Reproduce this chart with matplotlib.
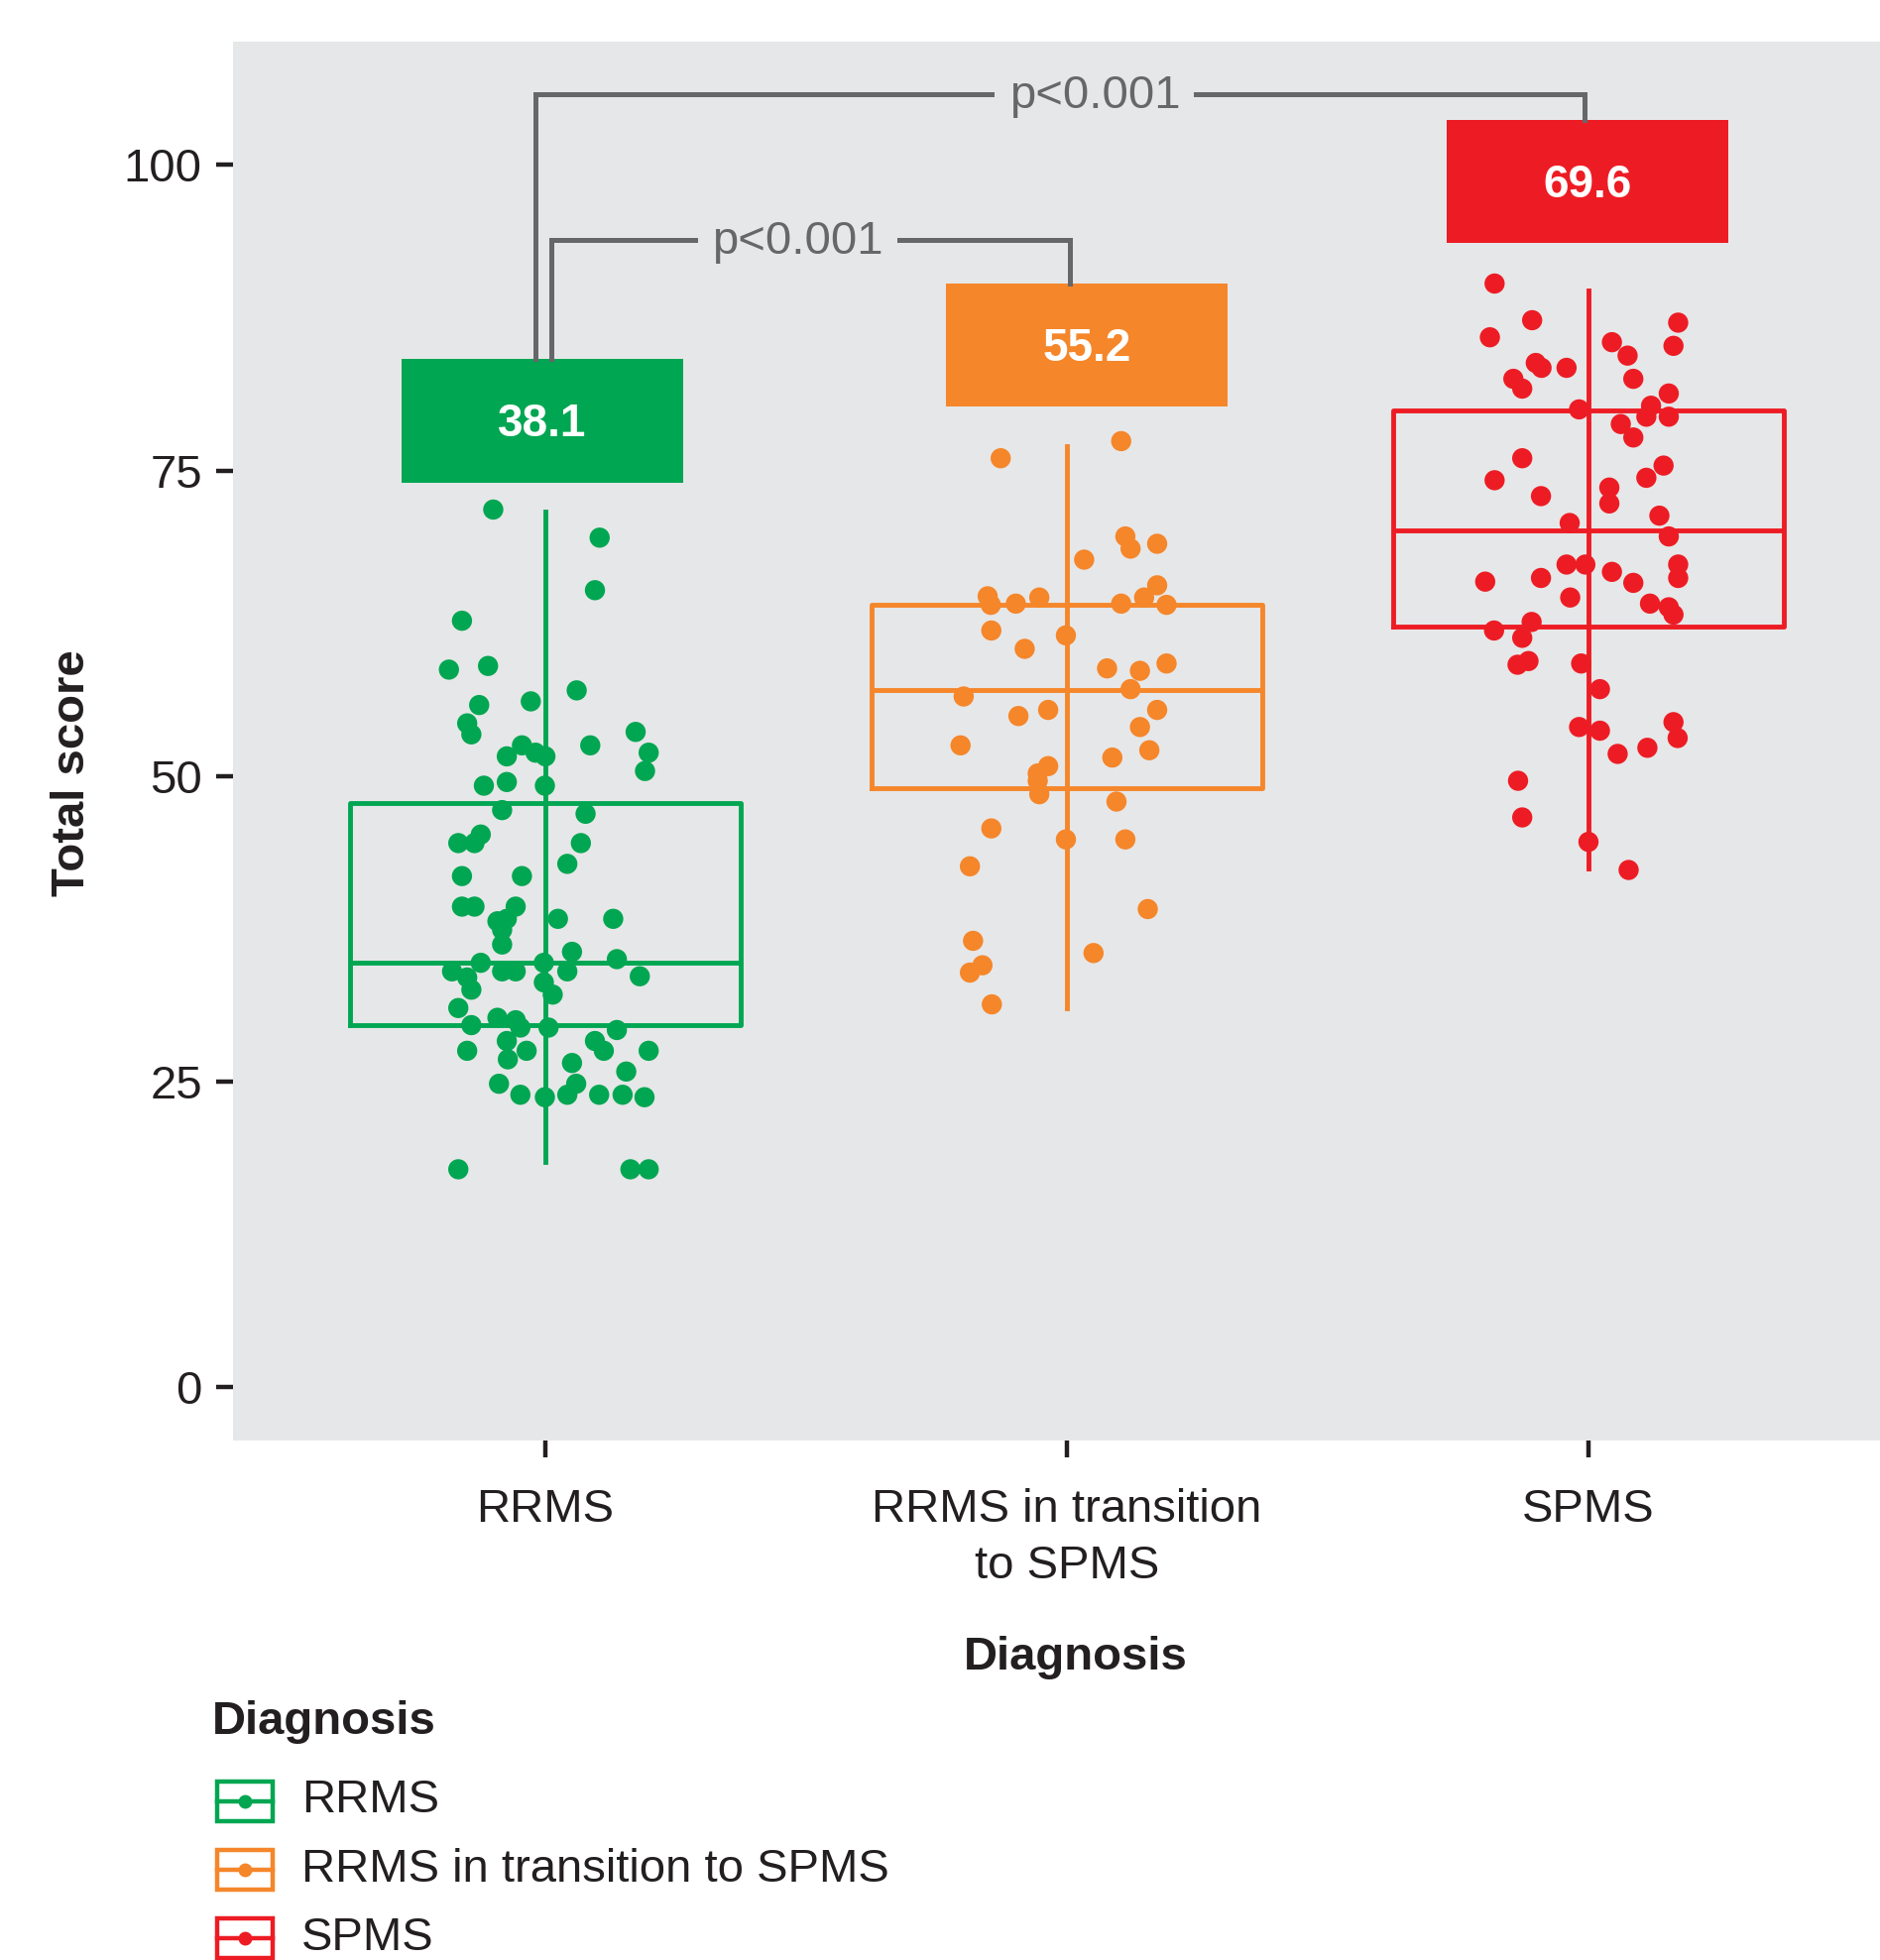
import numpy as np
import matplotlib
matplotlib.use('Agg')
import matplotlib.pyplot as plt
from matplotlib.patches import Rectangle
from matplotlib.lines import Line2D

plt.rcParams['font.family'] = ['Liberation Sans', 'DejaVu Sans']

# --- data ---
groups = ['RRMS', 'RRMS in transition to SPMS', 'SPMS']
tick_labels = ['RRMS', 'RRMS in transition\nto SPMS', 'SPMS']
colors = ['#00A651', '#F5862A', '#ED1C24']

# box stats: whisker low, Q1, median, Q3, whisker high
whislo = [18.4, 31.0, 42.4]
q1 = [29.6, 49.0, 62.2]
med = [34.7, 57.0, 70.1]
q3 = [47.8, 64.0, 79.9]
whishi = [71.6, 77.0, 89.7]

mean_labels = ['38.1', '55.2', '69.6']
label_x = [0.994, 2.038, 2.998]
label_bottom = [74.0, 80.2, 93.6]

# individual scores (y) and horizontal jitter (dx) per group
rrms_y = [71.8, 69.5, 65.2, 62.7, 58.7, 59.0, 57.0, 56.1, 55.8, 54.3,
          53.4, 53.6, 52.5, 52.5, 51.9, 51.6, 51.9, 51.6, 50.4, 49.2,
          49.5, 49.2, 47.2, 46.9, 45.2, 44.5, 44.5, 44.5, 42.8, 41.8,
          41.8, 39.3, 39.3, 39.3, 38.3, 38.1, 37.4, 38.3, 38.3, 36.2,
          35.6, 35.0, 34.7, 34.7, 34.0, 34.0, 34.0, 34.0, 33.5, 33.6,
          32.5, 33.1, 32.1, 31.0, 30.2, 30.0, 29.6, 29.4, 29.4, 29.2,
          28.3, 28.3, 27.5, 27.5, 27.5, 27.5, 26.8, 26.5, 25.8, 24.8,
          24.8, 23.9, 23.7, 23.9, 23.9, 23.9, 23.7, 17.8, 17.8, 17.8]
rrms_dx = [-0.100, 0.104, 0.095, -0.160, -0.185, -0.110, 0.060, -0.028, -0.127, -0.150,
           -0.142, 0.173, -0.045, 0.086, 0.198, -0.074, -0.019, 0.000, 0.191, -0.118,
           -0.074, -0.001, -0.083, 0.077, -0.124, -0.167, -0.136, 0.068, 0.042, -0.160,
           -0.045, -0.160, -0.136, -0.057, -0.074, -0.092, -0.083, 0.024, 0.130, -0.083,
           0.051, 0.137, -0.124, -0.003, -0.179, -0.083, -0.057, 0.042, -0.150, 0.181,
           -0.142, -0.003, 0.014, -0.167, -0.092, -0.057, -0.142, -0.048, 0.006, 0.137,
           -0.074, 0.095, -0.150, -0.036, 0.112, 0.198, -0.072, 0.051, 0.155, -0.089,
           0.059, -0.048, -0.001, 0.042, 0.103, 0.148, 0.190, -0.167, 0.163, 0.198]

trans_y = [77.4, 76.0, 69.6, 68.6, 69.0, 67.7, 65.6, 64.7, 64.6, 64.6,
           64.0, 64.1, 64.1, 64.0, 61.9, 61.5, 60.4, 59.2, 58.8, 58.6,
           57.1, 56.5, 55.4, 55.4, 54.9, 54.0, 52.5, 52.1, 51.5, 50.8,
           50.2, 49.6, 48.5, 47.9, 45.7, 44.8, 44.8, 42.6, 39.1, 36.5,
           34.5, 33.9, 31.3, 35.5]
trans_dx = [0.104, -0.127, 0.112, 0.122, 0.173, 0.033, 0.173, -0.152, -0.053, 0.148,
            -0.146, -0.098, 0.104, 0.191, -0.145, -0.002, -0.081, 0.191, 0.077, 0.140,
            0.122, -0.198, 0.173, -0.036, -0.093, 0.140, -0.204, 0.158, 0.087, -0.036,
            -0.056, -0.056, -0.053, 0.095, -0.145, -0.002, 0.112, -0.186, 0.155, -0.180,
            -0.162, -0.186, -0.144, 0.051]

spms_y = [90.3, 87.3, 87.1, 85.9, 85.5, 85.2, 84.4, 83.8, 83.4, 83.4,
          82.5, 81.7, 82.5, 81.3, 80.0, 80.3, 79.4, 79.4, 78.8, 77.7,
          76.0, 74.2, 75.4, 74.4, 73.6, 72.3, 72.9, 71.3, 70.7, 69.6,
          67.3, 67.3, 66.7, 67.3, 66.2, 65.9, 66.2, 65.8, 64.6, 64.1,
          63.8, 63.2, 61.9, 62.6, 61.3, 59.1, 59.4, 59.2, 57.1, 54.0,
          53.7, 54.4, 53.1, 52.3, 51.8, 49.6, 46.6, 44.6, 42.3]
spms_dx = [-0.180, -0.108, 0.172, -0.189, 0.045, 0.163, 0.075, -0.101, -0.090, -0.042,
           -0.144, -0.127, 0.086, 0.154, -0.018, 0.120, 0.111, 0.154, 0.062, 0.086,
           -0.127, -0.180, 0.144, 0.111, 0.040, 0.040, -0.091, 0.136, -0.036, 0.154,
           -0.042, -0.006, 0.045, 0.172, 0.172, -0.198, -0.091, 0.086, -0.035, 0.118,
           0.154, 0.163, -0.181, -0.109, -0.127, -0.136, -0.115, -0.014, 0.022, -0.018,
           0.022, 0.163, 0.171, 0.113, 0.056, -0.135, -0.127, 0.000, 0.077]

points_y = [rrms_y, trans_y, spms_y]
points_dx = [rrms_dx, trans_dx, spms_dx]

# pairwise comparisons: (group a, group b, bracket height, p text, text x)
comparisons = [(0, 2, 105.8, 'p<0.001', 2.053),
               (0, 1, 93.9, 'p<0.001', 1.483)]
bracket_ends = [(0.980, 2.992), (1.011, 2.006)]

# --- figure ---
W, H = 1896, 1977
fig = plt.figure(figsize=(W / 100, H / 100), dpi=100)
panel_bg = '#E6E7E8'
dark = '#231F20'
grey = '#666769'

def fxy(x, y):
    return x / W, 1 - y / H

ax = fig.add_axes([235 / W, 1 - 1453 / H, (W - 235) / W, (1453 - 42) / H])
ax.set_facecolor(panel_bg)
for s in ax.spines.values():
    s.set_visible(False)

pos = np.arange(1, 4)
lw = 3.5
for i in range(3):
    c = colors[i]
    ax.bxp([{'whislo': whislo[i], 'q1': q1[i], 'med': med[i], 'q3': q3[i],
             'whishi': whishi[i], 'fliers': []}],
           positions=[pos[i]], widths=0.75, showcaps=False, showfliers=False,
           boxprops=dict(color=c, linewidth=lw),
           whiskerprops=dict(color=c, linewidth=lw),
           medianprops=dict(color=c, linewidth=lw), zorder=2)
    ax.vlines(pos[i], q1[i], q3[i], color=c, linewidth=lw, zorder=2)
    ax.scatter(pos[i] + np.array(points_dx[i]), points_y[i], s=215, color=c,
               edgecolors='none', zorder=3)

# mean labels
label_w, label_h = 0.54, 10.1
for i in range(3):
    ax.add_patch(Rectangle((label_x[i] - label_w / 2, label_bottom[i]), label_w, label_h,
                           facecolor=colors[i], edgecolor='none', zorder=4))
    ax.text(label_x[i], label_bottom[i] + label_h / 2 - 0.3, mean_labels[i], color='white',
            fontsize=33, fontweight='bold', ha='center', va='center', zorder=5)

# significance brackets
label_top = [b + label_h for b in label_bottom]
for (a, b, yb, ptxt, tx), (xl, xr) in zip(comparisons, bracket_ends):
    ax.plot([xl, xl, xr, xr], [label_top[a], yb, yb, label_top[b]],
            color=grey, linewidth=3.6, solid_joinstyle='miter', zorder=4)
    ax.text(tx, yb - 0.2, ptxt, color=grey, fontsize=34, ha='center', va='center',
            bbox=dict(facecolor=panel_bg, edgecolor='none', boxstyle='square,pad=0.3'),
            zorder=5)

ax.set_xlim(0.401, 3.559)
ax.set_ylim(-4.4, 110.1)
ax.set_xticks(pos)
ax.set_xticklabels(tick_labels, fontsize=34, color=dark, linespacing=1.38)
ax.set_yticks([0, 25, 50, 75, 100])
ax.set_yticklabels(['0', '25', '50', '75', '100'], fontsize=34, color=dark)
ax.tick_params(axis='both', length=12.5, width=3.2, color=dark)
ax.tick_params(axis='y', pad=10)
ax.tick_params(axis='x', pad=22)

# axis titles
fig.text(*fxy(73, 780), 'Total score', rotation=90, fontsize=34, fontweight='bold',
         color=dark, ha='center', va='center')
fig.text(*fxy(1085, 1672), 'Diagnosis', fontsize=34, fontweight='bold',
         color=dark, ha='center', va='center')

# legend
fig.text(*fxy(214, 1737), 'Diagnosis', fontsize=34, fontweight='bold',
         color=dark, ha='left', va='center')
key_y = [1816.5, 1886, 1955]
for i in range(3):
    x0, y0 = fxy(219, key_y[i] + 20)
    x1, y1 = fxy(275, key_y[i] - 20)
    fig.add_artist(Rectangle((x0, y0), x1 - x0, y1 - y0, transform=fig.transFigure,
                             facecolor='none', edgecolor=colors[i], linewidth=3.2))
    xm0, ym = fxy(219, key_y[i])
    xm1, _ = fxy(275, key_y[i])
    fig.add_artist(Line2D([xm0, xm1], [ym, ym], transform=fig.transFigure,
                          color=colors[i], linewidth=3.2))
    fig.add_artist(Line2D([(xm0 + xm1) / 2], [ym], transform=fig.transFigure,
                          marker='o', markersize=9, color=colors[i]))
    fig.text(*fxy(304, key_y[i]), groups[i], fontsize=34, color=dark,
             ha='left', va='center')

fig.savefig('out.png', dpi=100, facecolor='white')
